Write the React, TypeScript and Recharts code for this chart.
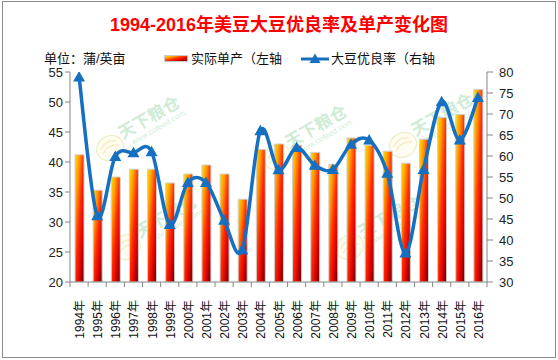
import { ComposedChart, Bar, Line, XAxis, YAxis } from 'recharts'

const years = ['1994年', '1995年', '1996年', '1997年', '1998年', '1999年', '2000年', '2001年', '2002年', '2003年', '2004年', '2005年',
  '2006年', '2007年', '2008年', '2009年', '2010年', '2011年', '2012年', '2013年', '2014年', '2015年', '2016年']

// 实际单产 (蒲/英亩, left axis)
const yieldValues = [41.2, 35.3, 37.5, 38.8, 38.8, 36.5, 38.0, 39.5, 38.0, 33.8, 42.1, 43.0,
  42.8, 41.6, 39.6, 44.0, 42.8, 41.8, 39.8, 43.8, 47.4, 47.9, 52.1]

// 大豆优良率 (%, right axis)
const goodRate = [78.8, 45.8, 59.9, 60.8, 61.0, 43.7, 53.7, 53.7, 44.7, 37.7, 66.0, 56.7,
  62.0, 57.8, 56.8, 62.8, 63.8, 55.9, 36.9, 56.8, 72.9, 63.8, 73.9]

const leftTicks = [20, 25, 30, 35, 40, 45, 50, 55]
const rightTicks = [30, 35, 40, 45, 50, 55, 60, 65, 70, 75, 80]

const chartData = years.map((year, i) => ({ year, yield: yieldValues[i], rate: goodRate[i] }))

const W = 558
const H = 360
const PLOT_L = 70
const PLOT_R = 487
const PLOT_B = 282
const BAND = (PLOT_R - PLOT_L) / years.length
const AXIS = '#868686'
const FONT = '"Liberation Sans", "Noto Sans CJK SC", sans-serif'
const BLUE = '#1570c1'

// Excel-style smooth line (Catmull-Rom through every point)
const smoothCurve: any = (context: any) => {
  let pts: number[][] = []
  return {
    areaStart() {},
    areaEnd() {},
    lineStart() { pts = [] },
    point(x: number, y: number) { pts.push([+x, +y]) },
    lineEnd() {
      if (!pts.length) return
      context.moveTo(pts[0][0], pts[0][1])
      for (let i = 0; i < pts.length - 1; i++) {
        const p0 = pts[i - 1] || pts[i]
        const p1 = pts[i]
        const p2 = pts[i + 1]
        const p3 = pts[i + 2] || p2
        const t = 1 / 6
        context.bezierCurveTo(
          p1[0] + (p2[0] - p0[0]) * t, p1[1] + (p2[1] - p0[1]) * t,
          p2[0] - (p3[0] - p1[0]) * t, p2[1] - (p3[1] - p1[1]) * t,
          p2[0], p2[1],
        )
      }
    },
  }
}

const Triangle = (props: any) => {
  const { cx, cy, index } = props
  if (cx == null || cy == null) return <g key={index} />
  return <path key={index} d={`M${cx},${cy - 6} L${cx + 6},${cy + 4.5} L${cx - 6},${cy + 4.5} Z`} fill={BLUE} />
}

const XTick = (props: any) => {
  const { x, payload, index } = props
  const ty = PLOT_B + 18
  return (
    <g>
      <line x1={x - BAND / 2} x2={x - BAND / 2} y1={PLOT_B} y2={PLOT_B + 5} stroke={AXIS} />
      {index === years.length - 1 && <line x1={x + BAND / 2} x2={x + BAND / 2} y1={PLOT_B} y2={PLOT_B + 5} stroke={AXIS} />}
      <text x={x + 1} y={ty} transform={`rotate(-90, ${x + 1}, ${ty})`} textAnchor="end" dominantBaseline="central"
        fontSize={12} fill="#111" fontFamily={FONT}>{payload.value}</text>
    </g>
  )
}

const marks = [[110, 148], [277, 157], [403, 145], [127, 247], [350, 247]]

function Watermarks() {
  return (
    <svg width={W} height={H} style={{ position: 'absolute', left: 0, top: 0 }}>
      {marks.map(([x, y], i) => (
        <g key={i} transform={`translate(${x},${y}) rotate(-30)`}>
          <ellipse cx={0} cy={0} rx={14} ry={12} fill="rgba(255,240,190,0.2)" stroke="rgba(215,220,140,0.45)" strokeWidth={1.2} />
          <path d="M-9,-3 Q0,-10 9,-3 M-9,2 Q0,-5 9,2" fill="none" stroke="rgba(240,210,120,0.4)" strokeWidth={1.5} />
          <text x={15} y={-1} fontSize={17} fill="rgba(130,205,150,0.4)" fontFamily={FONT} fontWeight={700}>天下粮仓</text>
          <text x={22} y={9} fontSize={8} fill="rgba(130,205,150,0.4)" fontFamily={FONT}>www.cofeed.com</text>
        </g>
      ))}
    </svg>
  )
}

export default function App() {
  return (
    <div style={{ position: 'absolute', left: 0, top: 0, width: W, height: H, background: '#fff', fontFamily: FONT }}>
      <Watermarks />
      <div style={{ position: 'absolute', left: 2, top: 1, width: 554, height: 357, border: '1px solid #8c8c8c', boxSizing: 'border-box' }} />
      <div style={{ position: 'absolute', left: 0, top: 14, width: W, textAlign: 'center', fontSize: 18, lineHeight: '22px', fontWeight: 700, color: '#ff0000' }}>
        1994-2016年美豆大豆优良率及单产变化图
      </div>
      <div style={{ position: 'absolute', left: 44, top: 50, fontSize: 13, lineHeight: '17px', color: '#111' }}>单位：蒲/英亩</div>
      <div style={{ position: 'absolute', left: 164, top: 55, width: 24, height: 7, border: '1px solid #c8c8c8', boxSizing: 'border-box',
        background: 'linear-gradient(to bottom right, #ffe000, #ff9a00 25%, #ff2a00 50%, #d80000 75%, #5a0000)' }} />
      <div style={{ position: 'absolute', left: 191, top: 50, fontSize: 13, lineHeight: '17px', color: '#111' }}>实际单产（左轴</div>
      <svg width={30} height={14} style={{ position: 'absolute', left: 301, top: 52 }}>
        <line x1={0} x2={28} y1={7} y2={7} stroke={BLUE} strokeWidth={3} />
        <path d="M14,1.5 L19.5,11 L8.5,11 Z" fill={BLUE} />
      </svg>
      <div style={{ position: 'absolute', left: 331, top: 50, fontSize: 13, lineHeight: '17px', color: '#111' }}>大豆优良率（右轴</div>

      <div style={{ position: 'absolute', left: 0, top: 0 }}>
        <ComposedChart width={W} height={H} data={chartData} margin={{ top: 72, right: 21, bottom: 18, left: 10 }}>
          <defs>
            <linearGradient id="barGrad" x1="0" y1="0" x2="1" y2="1">
              <stop offset="0" stopColor="#ffe000" />
              <stop offset="0.25" stopColor="#ff9a00" />
              <stop offset="0.5" stopColor="#ff2a00" />
              <stop offset="0.75" stopColor="#d80000" />
              <stop offset="1" stopColor="#5a0000" />
            </linearGradient>
          </defs>
          <XAxis dataKey="year" interval={0} height={60} tickLine={false} axisLine={{ stroke: AXIS }} tick={<XTick />} />
          <YAxis yAxisId="left" orientation="left" width={60} domain={[20, 55]} ticks={leftTicks} interval={0} allowDataOverflow
            axisLine={{ stroke: AXIS }} tickLine={{ stroke: AXIS }} tickSize={5} tickMargin={2}
            tick={{ fontSize: 13, fill: '#222', fontFamily: FONT }} />
          <YAxis yAxisId="right" orientation="right" width={50} domain={[30, 80]} ticks={rightTicks} interval={0} allowDataOverflow
            axisLine={{ stroke: AXIS }} tickLine={{ stroke: AXIS }} tickSize={6} tickMargin={6}
            tick={{ fontSize: 13, fill: '#222', fontFamily: FONT }} />
          <Bar yAxisId="left" dataKey="yield" barSize={9} fill="url(#barGrad)" stroke="#cfcfcf" strokeWidth={1} isAnimationActive={false} />
          <Line yAxisId="right" dataKey="rate" type={smoothCurve} stroke={BLUE} strokeWidth={3.5} dot={Triangle} activeDot={false} isAnimationActive={false} />
        </ComposedChart>
      </div>
    </div>
  )
}
